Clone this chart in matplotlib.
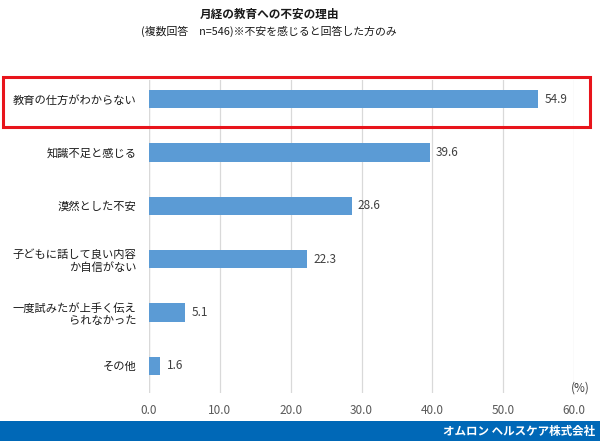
import matplotlib
matplotlib.use('Agg')
import matplotlib.pyplot as plt
from matplotlib.patches import Rectangle

plt.rcParams['font.family'] = ['Noto Sans CJK JP', 'DejaVu Sans']

# data
reasons = [
    '教育の仕方がわからない',
    '知識不足と感じる',
    '漠然とした不安',
    '子どもに話して良い内容\nか自信がない',
    '一度試みたが上手く伝え\nられなかった',
    'その他',
]
percent = [54.9, 39.6, 28.6, 22.3, 5.1, 1.6]
x_ticks = [0, 10, 20, 30, 40, 50, 60]

bar_color = '#5b9bd5'
W, H = 600, 444

fig = plt.figure(figsize=(6, 4.44), dpi=100)
ax = fig.add_axes([149 / W, 1 - 393 / H, 425 / W, 313 / H])

pos = list(range(len(reasons)))
ax.barh(pos, percent, height=0.34, color=bar_color, zorder=3)
for y, v in zip(pos, percent):
    ax.text(v + 0.9, y, f'{v:.1f}', va='center', ha='left',
            fontsize=8.5, color='#404040')

ax.set_xlim(0, 60)
ax.set_ylim(5.51, -0.36)
ax.set_xticks(x_ticks)
ax.set_xticklabels([f'{t:.1f}' for t in x_ticks], fontsize=8.5, color='#595959')
ax.set_yticks(pos)
ax.set_yticklabels(reasons, fontsize=8.1, color='#1a1a1a', linespacing=1.2)
ax.tick_params(axis='both', length=0)
ax.tick_params(axis='x', pad=8)
ax.tick_params(axis='y', pad=9)
ax.grid(axis='x', color='#d9d9d9', linewidth=0.9, zorder=0)
for s in ax.spines.values():
    s.set_visible(False)
ax.axvline(0, color='#d9d9d9', linewidth=0.9, zorder=1)

# titles
fig.text(270 / W, 1 - 14 / H, '月経の教育への不安の理由', ha='center', va='center',
         fontsize=8.4, fontweight='bold', color='#1a1a1a')
fig.text(269 / W, 1 - 31 / H, '(複数回答\u3000n=546)※不安を感じると回答した方のみ',
         ha='center', va='center', fontsize=7.8, color='#1a1a1a')
fig.text(590 / W, 1 - 388 / H, '(%)', ha='right', va='center',
         fontsize=8.5, color='#404040')

# red highlight box around the first row
fig.patches.append(Rectangle((3 / W, 1 - 127 / H), 587 / W, 50 / H,
                             transform=fig.transFigure, fill=False,
                             edgecolor='#e8141b', linewidth=2.2))

# footer band
fig.patches.append(Rectangle((0, 1 - 441 / H), 1, 20 / H,
                             transform=fig.transFigure, facecolor='#0068b7',
                             edgecolor='none'))
fig.text(595 / W, 1 - 431 / H, 'オムロン ヘルスケア株式会社', ha='right',
         va='center', fontsize=8.3, fontweight='bold', color='white')

fig.savefig('out.png', dpi=100)
